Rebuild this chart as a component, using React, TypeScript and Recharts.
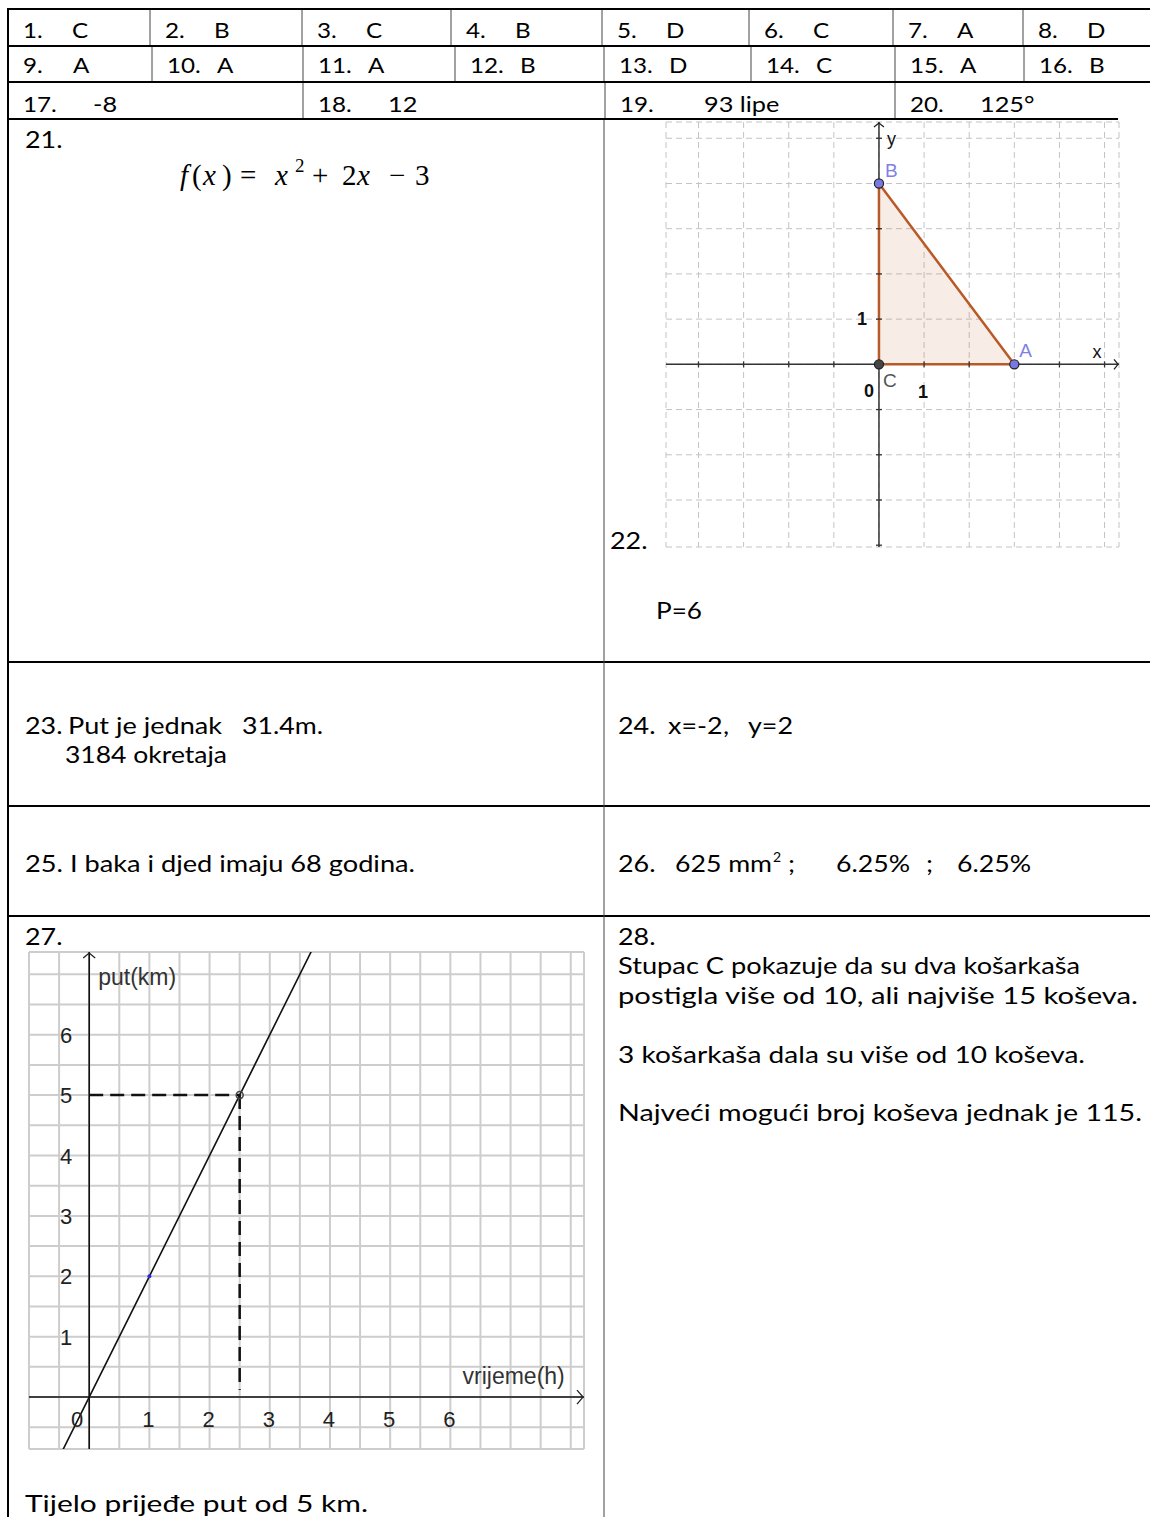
import React from 'react';
import { ComposedChart, XAxis, YAxis, CartesianGrid, Line, Area, Scatter } from 'recharts';

// answer key, rows 1-3
const row1Nums = ['1.', '2.', '3.', '4.', '5.', '6.', '7.', '8.'];
const row1Answers = ['C', 'B', 'C', 'B', 'D', 'C', 'A', 'D'];
const row2Nums = ['9.', '10.', '11.', '12.', '13.', '14.', '15.', '16.'];
const row2Answers = ['A', 'A', 'A', 'B', 'D', 'C', 'A', 'B'];
const row3Nums = ['17.', '18.', '19.', '20.'];
const row3Answers = ['-8', '12', '93 lipe', '125°'];

// task 22: triangle ABC in the coordinate plane
const triTicks = [-4, -3, -2, -1, 0, 1, 2, 3, 4, 5];
const triX: [number, number] = [-4.72, 5.32];
const triY: [number, number] = [-4.04, 5.36];
const hypotenuse = [{ x: 0, y: 4 }, { x: 3, y: 0 }];
const legCA = [{ x: 0, y: 0 }, { x: 3, y: 0 }];
const legCB = [{ x: 0, y: 0 }, { x: 0, y: 4 }];
const vertices = [
  { name: 'B', x: 0, y: 4 },
  { name: 'A', x: 3, y: 0 },
  { name: 'C', x: 0, y: 0 },
];
const triNumbers = [
  { text: '0', kind: 'o', x: 0, y: 0 },
  { text: '1', kind: 'x', x: 1, y: 0 },
  { text: '1', kind: 'y', x: 0, y: 1 },
];

// task 27: put(km) / vrijeme(h)
const kmX: [number, number] = [-1, 8.22];
const kmY: [number, number] = [-0.86, 7.37];
const halfHours = [-1, -0.5, 0, 0.5, 1, 1.5, 2, 2.5, 3, 3.5, 4, 4.5, 5, 5.5, 6, 6.5, 7, 7.5, 8];
const halfKms = [-0.5, 0, 0.5, 1, 1.5, 2, 2.5, 3, 3.5, 4, 4.5, 5, 5.5, 6, 6.5, 7];
const runLine = [{ x: -0.5, y: -1 }, { x: 0, y: 0 }, { x: 1, y: 2 }, { x: 2.5, y: 5 }, { x: 4, y: 8 }];
const readAcross = [{ x: 0, y: 5 }, { x: 2.5, y: 5 }];
const readDown = [{ x: 2.5, y: 5 }, { x: 2.5, y: 0.12 }];
const hourLabels = [0, 1, 2, 3, 4, 5, 6];
const kmLabels = [1, 2, 3, 4, 5, 6];

const TEXT = 'Lato, "Noto Sans", sans-serif';
const GEO = '"Liberation Sans", Arial, sans-serif';

// table rule positions
const row1Cols = [150, 302, 451, 602, 749, 893, 1023];
const row2Cols = [152, 303, 455, 604, 751, 895, 1024];
const row3Cols = [303, 605, 895];

// Lato is narrower than the Calibri of the original, so text is stretched sideways
function Tx({ x, y, w, size = 24, sx = 1.12, children }: { x: number; y: number; w?: number; size?: number; sx?: number; children: React.ReactNode }) {
  const style = { fontFamily: TEXT, fontSize: size, fill: '#000', whiteSpace: 'pre' as const };
  if (w) {
    return (
      <text x={x} y={y} textLength={w} lengthAdjust="spacingAndGlyphs" style={style}>
        {children}
      </text>
    );
  }
  return (
    <text transform={`translate(${x},${y}) scale(${sx},1)`} style={style}>
      {children}
    </text>
  );
}

function AnswerSheet() {
  const r1Left = [8, ...row1Cols];
  const r2Left = [8, ...row2Cols];
  const r3Left = [8, ...row3Cols];
  const r3Gap = [70, 70, 84, 70];
  return (
    <svg width={1150} height={1517} style={{ position: 'absolute', left: 0, top: 0 }}>
      {[9, 46, 82].map((y) => (
        <line key={y} x1={7} x2={1150} y1={y} y2={y} stroke="#000" strokeWidth={2} />
      ))}
      <line x1={7} x2={1118} y1={119} y2={119} stroke="#000" strokeWidth={2} />
      {[662, 806, 916].map((y) => (
        <line key={y} x1={7} x2={1150} y1={y} y2={y} stroke="#000" strokeWidth={2} />
      ))}
      <line x1={8} x2={8} y1={8} y2={1517} stroke="#000" strokeWidth={2} />
      {row1Cols.map((x) => <line key={'a' + x} x1={x} x2={x} y1={10} y2={45} stroke="#444" strokeWidth={1} />)}
      {row2Cols.map((x) => <line key={'b' + x} x1={x} x2={x} y1={47} y2={81} stroke="#444" strokeWidth={1} />)}
      {row3Cols.map((x) => <line key={'c' + x} x1={x} x2={x} y1={83} y2={118} stroke="#444" strokeWidth={1} />)}
      <line x1={604} x2={604} y1={120} y2={1517} stroke="#444" strokeWidth={1} />

      {row1Nums.map((n, i) => (
        <g key={n}>
          <Tx x={r1Left[i] + 15} y={37.5} size={22} sx={1.1}>{n}</Tx>
          <Tx x={r1Left[i] + 64} y={37.5} size={22} sx={1.1}>{row1Answers[i]}</Tx>
        </g>
      ))}
      {row2Nums.map((n, i) => (
        <g key={n}>
          <Tx x={r2Left[i] + 15} y={72.7} size={22} sx={1.1}>{n}</Tx>
          <Tx x={r2Left[i] + 65} y={72.7} size={22} sx={1.1}>{row2Answers[i]}</Tx>
        </g>
      ))}
      {row3Nums.map((n, i) => (
        <g key={n}>
          <Tx x={r3Left[i] + 15} y={111.7} size={22} sx={1.1}>{n}</Tx>
          <Tx x={r3Left[i] + 15 + r3Gap[i]} y={111.7} size={22} sx={1.15}>{row3Answers[i]}</Tx>
        </g>
      ))}

      <Tx x={25} y={148}>21.</Tx>
      <g style={{ fontFamily: '"Liberation Serif", serif', fontSize: 29 }}>
        <text x={180} y={185} fontStyle="italic">f</text>
        <text x={192} y={185}>(</text>
        <text x={203} y={185} fontStyle="italic">x</text>
        <text x={222} y={185}>)</text>
        <text x={240} y={185}>=</text>
        <text x={275} y={185} fontStyle="italic">x</text>
        <text x={295} y={172} fontSize={19}>2</text>
        <text x={312} y={185}>+</text>
        <text x={342} y={185}>2</text>
        <text x={357} y={185} fontStyle="italic">x</text>
        <text x={389} y={185}>−</text>
        <text x={415} y={185}>3</text>
      </g>

      <Tx x={610} y={549}>22.</Tx>
      <Tx x={656} y={619} w={46}>P=6</Tx>

      <Tx x={25} y={734}>23.</Tx>
      <Tx x={68} y={734} w={154}>Put je jednak</Tx>
      <Tx x={242} y={734} w={81}>31.4m.</Tx>
      <Tx x={65} y={763} w={162}>3184 okretaja</Tx>

      <Tx x={618} y={734}>24.</Tx>
      <Tx x={668} y={734}>x=-2</Tx>
      <Tx x={723} y={734}>,</Tx>
      <Tx x={748} y={734}>y=2</Tx>

      <Tx x={25} y={872} w={390}>25. I baka i djed imaju 68 godina.</Tx>

      <Tx x={618} y={872}>26.</Tx>
      <Tx x={675} y={872} w={97}>625 mm</Tx>
      <text x={773} y={862} style={{ fontFamily: TEXT, fontSize: 14 }}>2</text>
      <Tx x={788} y={872}>;</Tx>
      <Tx x={836} y={872} w={74}>6.25%</Tx>
      <Tx x={926} y={872}>;</Tx>
      <Tx x={957} y={872} w={74}>6.25%</Tx>

      <Tx x={25} y={945}>27.</Tx>
      <Tx x={25} y={1512} w={343}>Tijelo prijeđe put od 5 km.</Tx>

      <Tx x={618} y={945}>28.</Tx>
      <Tx x={618} y={974} w={462}>Stupac C pokazuje da su dva košarkaša</Tx>
      <Tx x={618} y={1004} w={520}>postigla više od 10, ali najviše 15 koševa.</Tx>
      <Tx x={618} y={1063} w={467}>3 košarkaša dala su više od 10 koševa.</Tx>
      <Tx x={618} y={1121} w={524}>Najveći mogući broj koševa jednak je 115.</Tx>
    </svg>
  );
}

// ---- shapes used by the scatter series ----
const vertexLook: Record<string, { fill: string; label: string; dx: number; dy: number }> = {
  B: { fill: '#7878e4', label: '#7f7fe6', dx: 6, dy: -6.5 },
  A: { fill: '#7878e4', label: '#7f7fe6', dx: 5, dy: -7 },
  C: { fill: '#454545', label: '#555', dx: 4, dy: 23 },
};
function Vertex(props: any) {
  const { cx, cy, payload } = props;
  const s = vertexLook[payload.name];
  return (
    <g>
      <circle cx={cx} cy={cy} r={4.6} fill={s.fill} stroke="#222" strokeWidth={1.2} />
      <text x={cx + s.dx} y={cy + s.dy} fill={s.label} fontFamily={GEO} fontSize={19}>{payload.name}</text>
    </g>
  );
}
const numberOffset: Record<string, { dx: number; dy: number }> = {
  o: { dx: -10, dy: 33 },
  x: { dx: -1, dy: 34 },
  y: { dx: -17, dy: 6 },
};
function TriNumber(props: any) {
  const { cx, cy, payload } = props;
  const o = numberOffset[payload.kind];
  return (
    <text x={cx + o.dx} y={cy + o.dy} textAnchor="middle" fontFamily={GEO} fontWeight="bold" fontSize={18} fill="#111">
      {payload.text}
    </text>
  );
}
const tickMarkX = (props: any) => <line x1={props.cx} x2={props.cx} y1={props.cy - 3} y2={props.cy + 3} stroke="#333" strokeWidth={1.3} />;
const tickMarkY = (props: any) => <line x1={props.cx - 3} x2={props.cx + 3} y1={props.cy} y2={props.cy} stroke="#333" strokeWidth={1.3} />;
const arrowRight = (size: number) => (props: any) => (
  <path d={`M${props.cx - size},${props.cy - size} L${props.cx - 1},${props.cy} L${props.cx - size},${props.cy + size}`} fill="none" stroke="#222" strokeWidth={1.3} />
);
const arrowUp = (size: number) => (props: any) => (
  <path d={`M${props.cx - size},${props.cy + size} L${props.cx},${props.cy + 1} L${props.cx + size},${props.cy + size}`} fill="none" stroke="#222" strokeWidth={1.3} />
);

function TriangleChart() {
  const xTicks = triTicks.filter((v) => v !== 0).map((v) => ({ x: v, y: 0 }));
  const yTicks = triTicks.filter((v) => v !== 0).map((v) => ({ x: 0, y: v }));
  return (
    <div style={{ position: 'absolute', left: 662, top: 118 }}>
      <ComposedChart width={461} height={433} margin={{ top: 4, right: 4, bottom: 4, left: 4 }}>
        <CartesianGrid stroke="#c4c4c4" strokeDasharray="6 4" />
        <XAxis type="number" dataKey="x" domain={triX} ticks={triTicks} allowDataOverflow hide />
        <YAxis type="number" dataKey="y" domain={triY} ticks={triTicks} allowDataOverflow hide />
        <Line data={[{ x: triX[0], y: 0 }, { x: triX[1], y: 0 }]} dataKey="y" stroke="#333" strokeWidth={1.5} dot={false} activeDot={false} isAnimationActive={false} />
        <Line data={[{ x: 0, y: triY[0] }, { x: 0, y: triY[1] }]} dataKey="y" stroke="#333" strokeWidth={1.5} dot={false} activeDot={false} isAnimationActive={false} />
        <Scatter data={xTicks} dataKey="y" shape={tickMarkX} isAnimationActive={false} />
        <Scatter data={yTicks} dataKey="y" shape={tickMarkY} isAnimationActive={false} />
        <Scatter data={[{ x: triX[1], y: 0 }]} dataKey="y" shape={arrowRight(5)} isAnimationActive={false} />
        <Scatter data={[{ x: 0, y: triY[1] }]} dataKey="y" shape={arrowUp(5)} isAnimationActive={false} />
        <Area data={hypotenuse} dataKey="y" type="linear" fill="#c0622f" fillOpacity={0.12} stroke="#b85a27" strokeWidth={2.5} isAnimationActive={false} activeDot={false} dot={false} />
        <Line data={legCA} dataKey="y" stroke="#b85a27" strokeWidth={2.5} dot={false} activeDot={false} isAnimationActive={false} />
        <Line data={legCB} dataKey="y" stroke="#b85a27" strokeWidth={2.5} dot={false} activeDot={false} isAnimationActive={false} />
        <Scatter data={triNumbers} dataKey="y" shape={TriNumber} isAnimationActive={false} />
        <Scatter
          data={[{ x: 5, y: 0 }]}
          dataKey="y"
          isAnimationActive={false}
          shape={(p: any) => <text x={p.cx - 12} y={p.cy - 6} fontFamily={GEO} fontSize={18} fill="#111">x</text>}
        />
        <Scatter
          data={[{ x: 0, y: 5 }]}
          dataKey="y"
          isAnimationActive={false}
          shape={(p: any) => <text x={p.cx + 8} y={p.cy + 7} fontFamily={GEO} fontSize={18} fill="#111">y</text>}
        />
        <Scatter data={vertices} dataKey="y" shape={Vertex} isAnimationActive={false} />
      </ComposedChart>
    </div>
  );
}

function DistanceChart() {
  const hourPts = hourLabels.map((h) => ({ x: h, y: 0 }));
  const kmPts = kmLabels.map((k) => ({ x: 0, y: k }));
  return (
    <div style={{ position: 'absolute', left: 25, top: 948 }}>
      <ComposedChart width={563} height={505} margin={{ top: 4, right: 4, bottom: 4, left: 4 }}>
        <CartesianGrid stroke="#cdcdcd" strokeWidth={2} />
        <XAxis type="number" dataKey="x" domain={kmX} ticks={halfHours} allowDataOverflow hide />
        <YAxis type="number" dataKey="y" domain={kmY} ticks={halfKms} allowDataOverflow hide />
        <Line data={[{ x: kmX[0], y: 0 }, { x: kmX[1], y: 0 }]} dataKey="y" stroke="#111" strokeWidth={1.6} dot={false} activeDot={false} isAnimationActive={false} />
        <Line data={[{ x: 0, y: kmY[0] }, { x: 0, y: kmY[1] }]} dataKey="y" stroke="#111" strokeWidth={1.6} dot={false} activeDot={false} isAnimationActive={false} />
        <Scatter data={[{ x: kmX[1], y: 0 }]} dataKey="y" shape={arrowRight(7)} isAnimationActive={false} />
        <Scatter data={[{ x: 0, y: kmY[1] }]} dataKey="y" shape={arrowUp(6)} isAnimationActive={false} />
        <Scatter
          data={hourPts}
          dataKey="y"
          isAnimationActive={false}
          shape={(p: any) => (
            <text x={p.cx + (p.payload.x === 0 ? -12 : -1)} y={p.cy + 30} textAnchor="middle" fontFamily={GEO} fontSize={22} fill="#222">
              {p.payload.x}
            </text>
          )}
        />
        <Scatter
          data={kmPts}
          dataKey="y"
          isAnimationActive={false}
          shape={(p: any) => (
            <text x={p.cx - 23} y={p.cy + 8} textAnchor="middle" fontFamily={GEO} fontSize={22} fill="#222">
              {p.payload.y}
            </text>
          )}
        />
        <Scatter
          data={[{ x: 0, y: 7 }]}
          dataKey="y"
          isAnimationActive={false}
          shape={(p: any) => <text x={p.cx + 9} y={p.cy + 11} fontFamily={GEO} fontSize={23} fill="#333">put(km)</text>}
        />
        <Scatter
          data={[{ x: 8, y: 0 }]}
          dataKey="y"
          isAnimationActive={false}
          shape={(p: any) => <text x={p.cx - 6} y={p.cy - 13} textAnchor="end" fontFamily={GEO} fontSize={23} fill="#333">vrijeme(h)</text>}
        />
        <Line data={readAcross} dataKey="y" stroke="#111" strokeWidth={2.5} strokeDasharray="14 7" dot={false} activeDot={false} isAnimationActive={false} />
        <Line data={readDown} dataKey="y" stroke="#111" strokeWidth={2.5} strokeDasharray="14 7" dot={false} activeDot={false} isAnimationActive={false} />
        <Line data={runLine} dataKey="y" stroke="#111" strokeWidth={1.6} dot={false} activeDot={false} isAnimationActive={false} />
        <Scatter
          data={[runLine[2]]}
          dataKey="y"
          isAnimationActive={false}
          shape={(p: any) => <circle cx={p.cx} cy={p.cy} r={2} fill="#2a2ad8" />}
        />
        <Scatter
          data={[runLine[3]]}
          dataKey="y"
          isAnimationActive={false}
          shape={(p: any) => <circle cx={p.cx} cy={p.cy} r={3.5} fill="none" stroke="#444" strokeWidth={1.5} />}
        />
      </ComposedChart>
    </div>
  );
}

export default function App() {
  return (
    <div style={{ position: 'absolute', left: 0, top: 0, width: 1150, height: 1517, background: '#fff', overflow: 'hidden' }}>
      <AnswerSheet />
      <TriangleChart />
      <DistanceChart />
    </div>
  );
}
